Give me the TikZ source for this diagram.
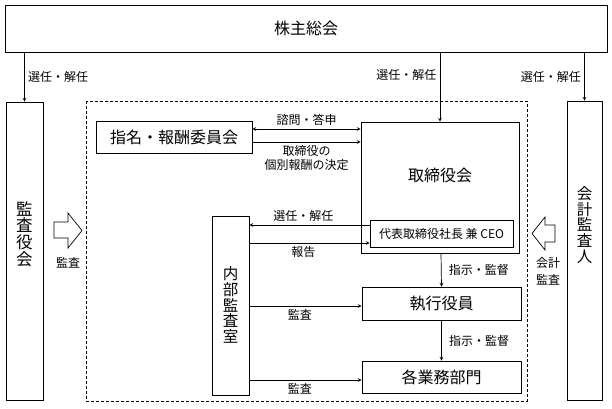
\documentclass[tikz,border=0pt]{standalone}
\usepackage{fontspec}
\setmainfont{Noto Sans CJK JP}
\usetikzlibrary{calc}

\begin{document}
\begin{tikzpicture}[x=1pt,y=-1pt,>=stealth,line width=.7pt,
    box/.style={draw,rectangle,inner sep=0pt},
    big/.style={font=\fontsize{16}{18}\selectfont},
    small/.style={font=\fontsize{12}{14}\selectfont},
    tate/.style={align=center,font=\fontsize{15.5}{15.6}\selectfont}]
\useasboundingbox (0,0) rectangle (612,408);

\node[box,minimum width=602pt,minimum height=47pt,big] (soukai) at (306,28.5) {株主総会};
\node[box,minimum width=37pt,minimum height=298pt] (kansa) at (24.5,251) {};
\node[box,minimum width=35pt,minimum height=299pt] (kaikei) at (584.5,250.5) {};

\draw[dash pattern=on 3pt off 2pt](86,101) rectangle (527,401);

\node[box,minimum width=156pt,minimum height=32pt,big] (shimei) at (174,137) {指名・報酬委員会};
\node[box,minimum width=158pt,minimum height=131pt] (tori) at (440,187.5) {};
\node[big] at (440,175) {取締役会};
\node[box,minimum width=143pt,minimum height=27pt,small] (ceo) at (441.5,233.5) {代表取締役社長 兼 CEO};
\node[box,minimum width=37pt,minimum height=179pt] (naibu) at (230.5,305.5) {};
\node[box,minimum width=159pt,minimum height=33pt,big] (shikko) at (441.5,303.5) {執行役員};
\node[box,minimum width=159pt,minimum height=32pt,big] (gyomu) at (441.5,377) {各業務部門};

\node[tate,font=\fontsize{16.5}{16.7}\selectfont] at (24.5,234) {監\\査\\役\\会};
\node[tate] at (230.5,305) {内\\部\\監\\査\\室};
\node[tate] at (584.5,225) {会\\計\\監\\査\\人};

% 株主総会から
\draw[->](soukai.south -| kansa.north)--node[right,small]{選任・解任}(kansa.north);
\draw[->](soukai.south -| tori.north)--node[left,small,pos=.33]{選任・解任}(tori.north);
\draw[->](soukai.south -| kaikei.north)--node[left,small]{選任・解任}(kaikei.north);

\draw[<->](shimei.east |- 0,129)--node[above,small]{諮問・答申}(tori.west |- 0,129);
\draw[->](shimei.east |- 0,142)--node[below,small,align=center]{取締役の\\個別報酬の決定}(tori.west |- 0,142);

\draw[->](ceo.west |- 0,225)--node[above,small,pos=.55]{選任・解任}(naibu.east |- 0,225);
\draw[->](naibu.east |- 0,243)--node[below,small,pos=.45]{報告}(ceo.west |- 0,243);

\draw[->](tori.south -| 441,0)--node[right,small,xshift=4pt]{指示・監督}(shikko.north);
\draw[->](shikko.south)--node[right,small,xshift=4pt]{指示・監督}(gyomu.north);

\draw[->](naibu.east |- 0,306)--node[below,small,pos=.45]{監査}(shikko.west |- 0,306);
\draw[->](naibu.east |- 0,380)--node[below,small,pos=.45]{監査}(gyomu.west |- 0,380);

% 監査の矢印
\draw(54,222)--(68,222)--(68,213)--(82,230.5)--(68,248)--(68,238)--(54,238)--cycle;
\node[small] at (68,263){監査};
\draw(555,225)--(545,225)--(545,217)--(532,233.5)--(545,250)--(545,242)--(555,242)--cycle;
\node[align=center,font=\fontsize{12}{17}\selectfont] at (548,271.5){会計\\監査};

\end{tikzpicture}
\end{document}
